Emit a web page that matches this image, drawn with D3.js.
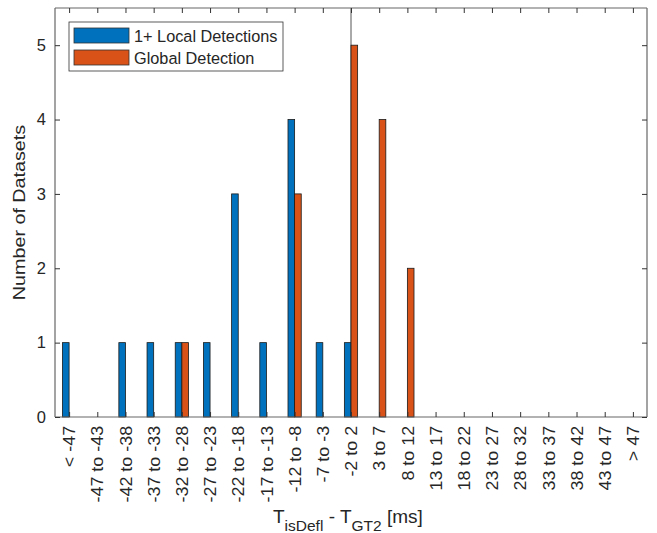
<!DOCTYPE html>
<html>
<head>
<meta charset="utf-8">
<script src="https://cdn.jsdelivr.net/npm/d3@7"></script>
<style>
  body { margin: 0; background: #fff; }
  text { font-family: "Liberation Sans", Arial, sans-serif; fill: #262626; }
</style>
</head>
<body>
<div id="chart"></div>
<script>
// bins of T_isDefl - T_GT2
const categories = ["< -47", "-47 to -43", "-42 to -38", "-37 to -33", "-32 to -28", "-27 to -23",
  "-22 to -18", "-17 to -13", "-12 to -8", "-7 to -3", "-2 to 2", "3 to 7", "8 to 12",
  "13 to 17", "18 to 22", "23 to 27", "28 to 32", "33 to 37", "38 to 42", "43 to 47", "> 47"];
const localCounts  = [1, 0, 1, 1, 1, 1, 3, 1, 4, 1, 1, 0, 0, 0, 0, 0, 0, 0, 0, 0, 0];
const globalCounts = [0, 0, 0, 0, 1, 0, 0, 0, 3, 0, 5, 4, 2, 0, 0, 0, 0, 0, 0, 0, 0];
const seriesNames = ["1+ Local Detections", "Global Detection"];
const seriesColors = ["#0072BD", "#D95319"];
const yTicks = [0, 1, 2, 3, 4, 5];
const zeroLineIndex = 10; // marker at 0 ms

const W = 657, H = 533;
const m = { left: 55, right: 10, top: 8, bottom: 116 };

const svg = d3.select("#chart").append("svg")
  .attr("width", W).attr("height", H);

// linear scale over category index, like MATLAB xlim [0.5, n+0.5]
const x = d3.scaleLinear()
  .domain([-0.5, categories.length - 0.5])
  .range([m.left, W - m.right]);
const y = d3.scaleLinear().domain([0, 5.5]).range([H - m.bottom, m.top]);
const step = x(1) - x(0);
const barW = step * 0.235;

const g = svg.append("g");

// vertical reference line
g.append("line")
  .attr("x1", x(zeroLineIndex)).attr("x2", x(zeroLineIndex))
  .attr("y1", y(5.5)).attr("y2", y(0))
  .attr("stroke", "#555").attr("stroke-width", 1);

const series = [localCounts, globalCounts];
series.forEach((vals, s) => {
  g.append("g").selectAll("rect")
    .data(vals.map((v, i) => ({ v, i })).filter(d => d.v > 0))
    .enter().append("rect")
    .attr("x", d => x(d.i) + (s === 0 ? -barW : 0))
    .attr("y", d => y(d.v))
    .attr("width", barW)
    .attr("height", d => y(0) - y(d.v))
    .attr("fill", seriesColors[s])
    .attr("stroke", "#1a1a1a")
    .attr("stroke-width", 0.8);
});

// axes (MATLAB style: box on, ticks inward)
const xBottom = d3.axisBottom(x).tickValues(d3.range(categories.length))
  .tickSize(-5).tickFormat(i => categories[i]);
const xTop = d3.axisTop(x).tickValues(d3.range(categories.length))
  .tickSize(-5).tickFormat("");
const yLeft = d3.axisLeft(y).tickValues(yTicks).tickSize(-5).tickFormat(d3.format("d"));
const yRight = d3.axisRight(y).tickValues(yTicks).tickSize(-5).tickFormat("");

function style(sel) {
  sel.select(".domain").attr("stroke", "#666").attr("stroke-width", 1.2);
  sel.selectAll(".tick line").attr("stroke", "#333");
}

const gb = svg.append("g").attr("transform", `translate(0,${y(0)})`).call(xBottom).call(style);
gb.selectAll(".domain").attr("d", `M${x.range()[0]},0H${x.range()[1]}`);
gb.selectAll(".tick text")
  .attr("font-size", 16.3)
  .attr("fill", "#262626")
  .attr("transform", "rotate(-90) scale(1.1,1)")
  .attr("x", -8).attr("y", 0).attr("dy", "0.35em")
  .attr("text-anchor", "end");

const gt = svg.append("g").attr("transform", `translate(0,${y(5.5)})`).call(xTop).call(style);
gt.selectAll(".domain").attr("d", `M${x.range()[0]},0H${x.range()[1]}`);

const gl = svg.append("g").attr("transform", `translate(${x.range()[0]},0)`).call(yLeft).call(style);
gl.selectAll(".domain").attr("d", `M0,${y.range()[0]}V${y.range()[1]}`);
gl.selectAll(".tick text").attr("font-size", 16.5).attr("fill", "#262626").attr("x", -9);

const gr = svg.append("g").attr("transform", `translate(${x.range()[1]},0)`).call(yRight).call(style);
gr.selectAll(".domain").attr("d", `M0,${y.range()[0]}V${y.range()[1]}`);

// axis labels
svg.append("text")
  .attr("transform", `translate(25,${(y(0) + y(5.5)) / 2}) rotate(-90) scale(1.16,1)`)
  .attr("text-anchor", "middle")
  .attr("font-size", 17)
  .text("Number of Datasets");

const xl = svg.append("text")
  .attr("x", 273)
  .attr("y", 523)
  .attr("text-anchor", "start")
  .attr("font-size", 19);
xl.append("tspan").text("T");
xl.append("tspan").attr("font-size", 15.5).attr("dy", 8).text("isDefl");
xl.append("tspan").attr("dy", -8).text(" - T");
xl.append("tspan").attr("font-size", 15.5).attr("dy", 8).text("GT2");
xl.append("tspan").attr("dy", -8).text(" [ms]");

// legend
const lg = svg.append("g").attr("transform", "translate(69,22)");
lg.append("rect").attr("width", 214).attr("height", 49)
  .attr("fill", "#fff").attr("stroke", "#333").attr("stroke-width", 0.8);
seriesNames.forEach((name, i) => {
  const row = lg.append("g").attr("transform", `translate(5,${6 + i * 22})`);
  row.append("rect").attr("width", 55).attr("height", 15)
    .attr("fill", seriesColors[i]).attr("stroke", "#333").attr("stroke-width", 0.8);
  row.append("text").attr("x", 60).attr("y", 8).attr("dy", "0.35em")
    .attr("font-size", 16.3).text(name);
});
</script>
</body>
</html>
